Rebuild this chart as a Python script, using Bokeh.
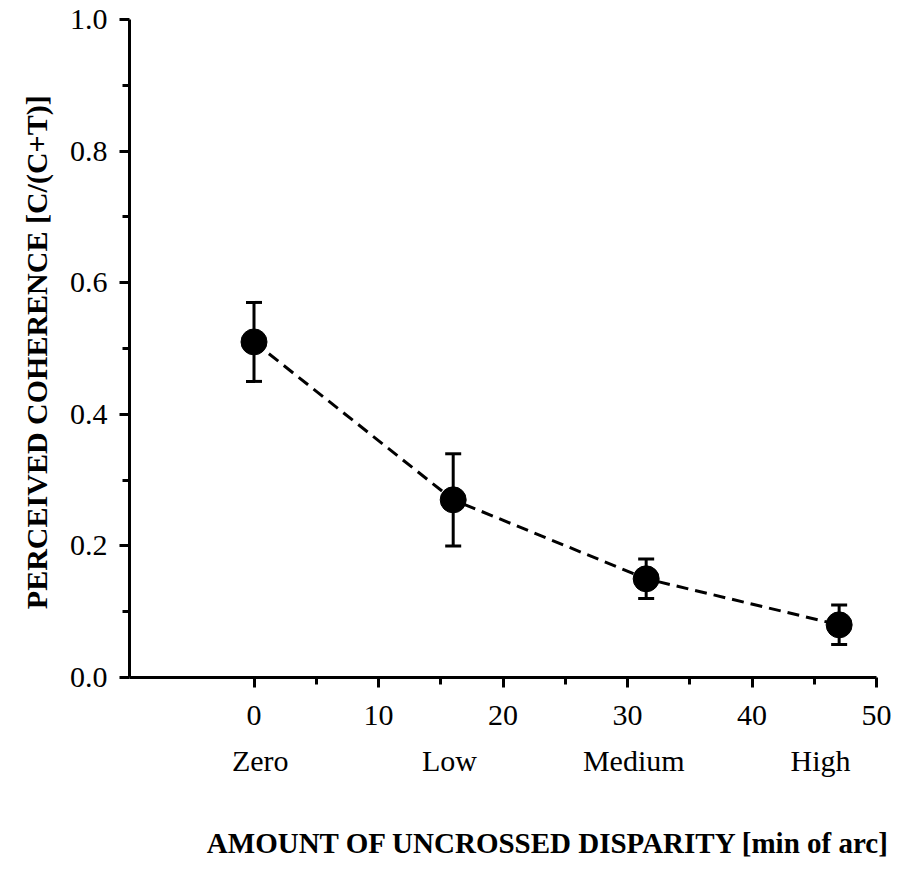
from bokeh.plotting import figure
from bokeh.layouts import column
from bokeh.models import (ColumnDataSource, Whisker, TeeHead, LinearAxis, FixedTicker,
                          NumeralTickFormatter, Range1d, Title)
from bokeh.embed import file_html
from bokeh.resources import INLINE

# data
disparity = [0, 16, 31.5, 47]
coherence = [0.51, 0.27, 0.15, 0.08]
err_low = [0.45, 0.20, 0.12, 0.05]
err_high = [0.57, 0.34, 0.18, 0.11]
x_ticks = [0, 10, 20, 30, 40, 50]
x_minor = [5, 15, 25, 35, 45]
y_ticks = [0.0, 0.2, 0.4, 0.6, 0.8, 1.0]
y_minor = [0.1, 0.3, 0.5, 0.7, 0.9]
categories = ["Zero", "Low", "Medium", "High"]
category_pos = [0.5, 15.7, 30.5, 45.5]
x_title = "AMOUNT OF UNCROSSED DISPARITY [min of arc]"
y_title = "PERCEIVED COHERENCE  [C/(C+T)]"

FONT = "Liberation Serif"

fig = figure(width=894, height=800, output_backend="svg", toolbar_location=None,
             x_range=Range1d(-10, 50), y_range=Range1d(0, 1.0),
             x_axis_location=None, y_axis_location=None,
             min_border_left=129, min_border_right=18, min_border_top=19, min_border_bottom=123)
fig.grid.visible = False
fig.outline_line_color = None
fig.background_fill_color = "white"
fig.border_fill_color = "white"

src = ColumnDataSource(dict(x=disparity, y=coherence, lo=err_low, hi=err_high))

fig.line("x", "y", source=src, line_color="black", line_width=3, line_dash="12 7")
w = Whisker(base="x", lower="lo", upper="hi", source=src, line_color="black", line_width=3,
            upper_head=TeeHead(size=16, line_width=3, line_color="black"),
            lower_head=TeeHead(size=16, line_width=3, line_color="black"))
fig.add_layout(w)
fig.scatter("x", "y", source=src, size=26, fill_color="black", line_color="black")

# y axis
ya = LinearAxis(ticker=FixedTicker(ticks=y_ticks, minor_ticks=y_minor),
                formatter=NumeralTickFormatter(format="0.0"),
                axis_label=y_title)
ya.axis_line_width = 3
ya.major_tick_line_width = 3
ya.minor_tick_line_width = 3
ya.major_tick_out = 10
ya.major_tick_in = 0
ya.minor_tick_out = 7
ya.minor_tick_in = 0
ya.major_label_standoff = 12
ya.major_label_text_font = FONT
ya.major_label_text_font_size = "30px"
ya.major_label_text_color = "black"
ya.axis_label_text_font = FONT
ya.axis_label_text_font_style = "bold"
ya.axis_label_text_font_size = "30px"
ya.axis_label_text_color = "black"
ya.axis_label_standoff = 14
fig.add_layout(ya, "left")

# x axis
xa = LinearAxis(ticker=FixedTicker(ticks=x_ticks, minor_ticks=x_minor))
xa.axis_line_width = 3
xa.major_tick_line_width = 3
xa.minor_tick_line_width = 3
xa.major_tick_out = 10
xa.major_tick_in = 0
xa.minor_tick_out = 7
xa.minor_tick_in = 0
xa.major_label_standoff = 18
xa.major_label_text_font = FONT
xa.major_label_text_font_size = "30px"
xa.major_label_text_color = "black"
fig.add_layout(xa, "below")

# category axis
ca = LinearAxis(ticker=FixedTicker(ticks=category_pos, minor_ticks=[]),
                major_label_overrides={pos: c for pos, c in zip(category_pos, categories)})
ca.axis_line_color = None
ca.major_tick_line_color = None
ca.minor_tick_line_color = None
ca.major_label_standoff = 10
ca.major_label_text_font = FONT
ca.major_label_text_font_size = "30px"
ca.major_label_text_color = "black"
fig.add_layout(ca, "below")

# strip holding the x-axis title, right-aligned like the reference
strip = figure(width=894, height=76, output_backend="svg", toolbar_location=None,
               x_axis_location=None, y_axis_location=None,
               min_border_left=0, min_border_right=0, min_border_top=62, min_border_bottom=0)
strip.grid.visible = False
strip.outline_line_color = None
strip.background_fill_color = "white"
strip.border_fill_color = "white"
strip.add_layout(Title(text=x_title, align="right", offset=-14, standoff=8,
                       text_font=FONT, text_font_style="bold", text_font_size="29px",
                       text_color="black"), "above")

p = column(fig, strip, spacing=0)

open("out.html", "w").write(file_html(p, INLINE))
